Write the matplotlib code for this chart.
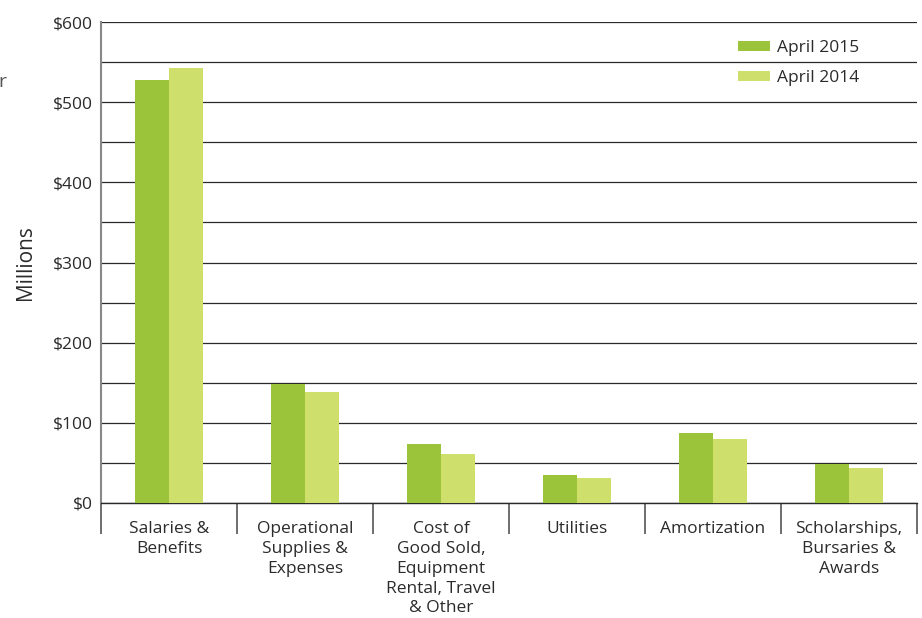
import numpy as np
import matplotlib.pyplot as plt
from matplotlib.ticker import FixedLocator, MultipleLocator

categories = ["Salaries &\nBenefits", "Operational\nSupplies &\nExpenses",
              "Cost of\nGood Sold,\nEquipment\nRental, Travel\n& Other",
              "Utilities", "Amortization", "Scholarships,\nBursaries &\nAwards"]
april_2015 = [528, 149, 74, 35, 87, 49]
april_2014 = [543, 139, 61, 31, 80, 44]
y_ticks = [0, 100, 200, 300, 400, 500, 600]
y_labels = ["$0", "$100", "$200", "$300", "$400", "$500", "$600"]

C15 = "#9cc43a"
C14 = "#cfdf6b"
TXT = "#2b2b2b"

plt.rcParams["font.family"] = ["Open Sans", "DejaVu Sans"]

fig = plt.figure(figsize=(9.22, 6.18), dpi=100)
ax = fig.add_axes([101 / 922, 1 - 503 / 618, 816 / 922, 481 / 618])

x = np.arange(len(categories))
w = 0.25
ax.bar(x - w / 2, april_2015, w, color=C15, label="April 2015", zorder=3)
ax.bar(x + w / 2, april_2014, w, color=C14, label="April 2014", zorder=3)

ax.set_xlim(-0.5, len(categories) - 0.5)
ax.set_ylim(0, 600)

# grid every $50, labels every $100
ax.yaxis.set_minor_locator(MultipleLocator(50))
ax.set_yticks(y_ticks)
ax.set_yticklabels(y_labels)
ax.grid(axis="y", which="both", color="#2a2a2a", linewidth=0.9, zorder=1)
ax.tick_params(axis="y", which="both", length=0, pad=6, labelsize=12.5, labelcolor=TXT)

# category labels, separators as minor ticks
ax.set_xticks(x)
ax.set_xticklabels(categories, fontsize=12.5, color=TXT, linespacing=1.32)
ax.tick_params(axis="x", which="major", length=0, pad=13)
ax.xaxis.set_minor_locator(FixedLocator(np.arange(len(categories) + 1) - 0.5))
ax.tick_params(axis="x", which="minor", length=22, width=1.2, color="#555555")

for s in ["top", "right"]:
    ax.spines[s].set_visible(False)
ax.spines["left"].set_color("#888888")
ax.spines["left"].set_linewidth(1.5)
ax.spines["bottom"].set_color("#2a2a2a")
ax.spines["bottom"].set_linewidth(1.0)

ax.set_ylabel("Millions", fontsize=15, color=TXT, labelpad=12)

ax.legend(loc="upper right", bbox_to_anchor=(0.948, 0.995), frameon=False,
          fontsize=12.5, handlelength=1.85, handleheight=0.55, labelspacing=0.8,
          handletextpad=0.4, labelcolor=TXT)

fig.text(-0.002, 0.859, "r", fontsize=14, color="#555555")

fig.savefig("out.png", dpi=100)
